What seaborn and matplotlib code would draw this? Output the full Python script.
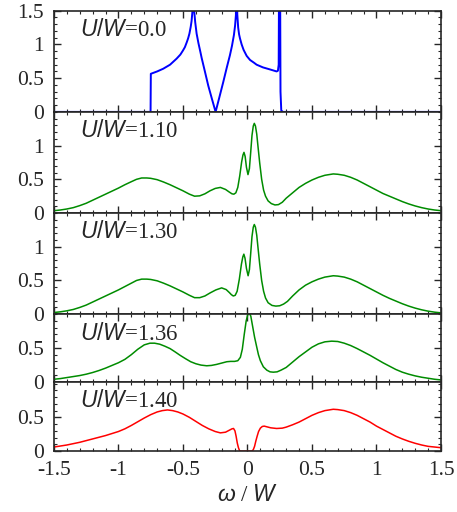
import matplotlib
matplotlib.use("Agg")
import matplotlib.pyplot as plt
from matplotlib.ticker import MultipleLocator
import seaborn as sns
import pandas as pd

# === DATA ===
u_labels = ["0.0", "1.10", "1.30", "1.36", "1.40"]

x_u000 = [-1.5, -0.751, -0.749, -0.70, -0.653, -0.60, -0.549, -0.52, -0.50, -0.485,
          -0.471, -0.46, -0.45, -0.44, -0.433, -0.427, -0.42, -0.413, -0.405, -0.394,
          -0.38, -0.365, -0.355, -0.33, -0.304, -0.275, -0.247, -0.22, -0.188, -0.16,
          -0.136, -0.12, -0.105, -0.096, -0.089, -0.084, -0.079, -0.072, -0.065, -0.058,
          -0.045, -0.03, -0.006, 0.02, 0.05, 0.071, 0.12, 0.174, 0.226, 0.236,
          0.242, 0.246, 0.252, 0.256, 0.262, 0.275, 1.5]
y_u000 = [0.0, 0.0, 0.565, 0.60, 0.64, 0.70, 0.79, 0.85, 0.91, 0.96,
          1.03, 1.09, 1.16, 1.26, 1.35, 1.48, 2.5, 1.50, 1.33, 1.16,
          1.02, 0.89, 0.80, 0.60, 0.39, 0.19, 0.0, 0.20, 0.44, 0.66,
          0.84, 0.98, 1.14, 1.28, 1.45, 2.5, 1.45, 1.25, 1.15, 1.09,
          1.00, 0.92, 0.83, 0.77, 0.73, 0.70, 0.66, 0.63, 0.60, 0.61,
          0.70, 2.5, 2.5, 0.30, 0.02, 0.0, 0.0]

x_u110 = [-1.5, -1.45, -1.4, -1.35, -1.3, -1.25, -1.2, -1.15, -1.1, -1.05, -1.0, -0.95,
          -0.9, -0.86, -0.82, -0.78, -0.75, -0.7, -0.65, -0.6, -0.55, -0.5, -0.45, -0.41,
          -0.37, -0.33, -0.29, -0.25, -0.21, -0.17, -0.14, -0.12, -0.105, -0.09, -0.075,
          -0.06, -0.045, -0.035, -0.027, -0.018, -0.008, 0.004, 0.015, 0.025, 0.035, 0.045,
          0.053, 0.062, 0.072, 0.082, 0.095, 0.11, 0.125, 0.14, 0.16, 0.185, 0.213, 0.24,
          0.27, 0.3, 0.35, 0.4, 0.45, 0.5, 0.55, 0.6, 0.665, 0.7, 0.75, 0.8, 0.85, 0.9,
          0.95, 1.0, 1.05, 1.1, 1.15, 1.2, 1.25, 1.3, 1.35, 1.4, 1.45, 1.5]
y_u110 = [0.035, 0.045, 0.06, 0.08, 0.11, 0.145, 0.19, 0.235, 0.28, 0.325, 0.37, 0.42,
          0.465, 0.50, 0.52, 0.52, 0.515, 0.495, 0.46, 0.42, 0.375, 0.33, 0.28, 0.25,
          0.255, 0.285, 0.33, 0.365, 0.38, 0.35, 0.31, 0.285, 0.28, 0.30, 0.38,
          0.55, 0.76, 0.86, 0.90, 0.84, 0.68, 0.57, 0.66, 0.90, 1.15, 1.29,
          1.33, 1.29, 1.17, 0.98, 0.74, 0.50, 0.34, 0.25, 0.18, 0.14, 0.12, 0.125,
          0.16, 0.22, 0.30, 0.38, 0.44, 0.49, 0.53, 0.56, 0.58, 0.575, 0.56, 0.53, 0.49, 0.44,
          0.39, 0.34, 0.29, 0.25, 0.21, 0.17, 0.135, 0.105, 0.08, 0.06, 0.045, 0.035]

x_u130 = [-1.5, -1.45, -1.4, -1.35, -1.3, -1.25, -1.2, -1.15, -1.1, -1.05, -1.0, -0.95,
          -0.9, -0.86, -0.82, -0.78, -0.75, -0.7, -0.65, -0.6, -0.55, -0.5, -0.45, -0.41,
          -0.37, -0.33, -0.29, -0.245, -0.2, -0.165, -0.14, -0.125, -0.11, -0.095, -0.08,
          -0.063, -0.047, -0.036, -0.028, -0.019, -0.008, 0.005, 0.015, 0.025, 0.035, 0.045,
          0.053, 0.062, 0.072, 0.082, 0.095, 0.11, 0.125, 0.14, 0.16, 0.19, 0.22, 0.25,
          0.28, 0.31, 0.35, 0.4, 0.45, 0.5, 0.55, 0.6, 0.665, 0.7, 0.75, 0.8, 0.85, 0.9,
          0.95, 1.0, 1.05, 1.1, 1.15, 1.2, 1.25, 1.3, 1.35, 1.4, 1.45, 1.5]
y_u130 = [0.025, 0.035, 0.05, 0.07, 0.10, 0.135, 0.18, 0.225, 0.27, 0.315, 0.36, 0.41,
          0.46, 0.50, 0.52, 0.52, 0.515, 0.495, 0.46, 0.42, 0.375, 0.33, 0.28, 0.245,
          0.245, 0.27, 0.315, 0.36, 0.39, 0.365, 0.32, 0.29, 0.27, 0.28, 0.34,
          0.52, 0.74, 0.85, 0.89, 0.83, 0.68, 0.57, 0.66, 0.90, 1.15, 1.29,
          1.33, 1.29, 1.17, 0.98, 0.74, 0.50, 0.34, 0.24, 0.17, 0.13, 0.12, 0.125,
          0.15, 0.19, 0.27, 0.36, 0.43, 0.48, 0.52, 0.55, 0.57, 0.565, 0.55, 0.52, 0.48, 0.43,
          0.38, 0.33, 0.28, 0.235, 0.195, 0.155, 0.12, 0.09, 0.065, 0.045, 0.03, 0.02]

x_u136 = [-1.5, -1.45, -1.4, -1.35, -1.3, -1.25, -1.2, -1.15, -1.1, -1.05, -1.0, -0.95,
          -0.9, -0.85, -0.8, -0.756, -0.72, -0.68, -0.64, -0.6, -0.56, -0.522, -0.48, -0.44,
          -0.4, -0.36, -0.316, -0.28, -0.24, -0.2, -0.16, -0.13, -0.1, -0.075, -0.055,
          -0.04, -0.025, -0.01, 0.002, 0.014, 0.026, 0.04, 0.055, 0.071, 0.085, 0.1, 0.123,
          0.15, 0.175, 0.2, 0.23, 0.26, 0.3, 0.35, 0.4, 0.45, 0.5, 0.55, 0.6, 0.653, 0.7,
          0.75, 0.8, 0.85, 0.9, 0.95, 1.0, 1.05, 1.1, 1.15, 1.2, 1.25, 1.3, 1.35, 1.4,
          1.45, 1.5]
y_u136 = [0.035, 0.045, 0.06, 0.075, 0.09, 0.11, 0.135, 0.165, 0.20, 0.24, 0.28, 0.33,
          0.40, 0.48, 0.545, 0.57, 0.57, 0.555, 0.525, 0.49, 0.44, 0.39, 0.34, 0.295,
          0.265, 0.245, 0.235, 0.24, 0.255, 0.275, 0.295, 0.30, 0.30, 0.31, 0.36,
          0.48, 0.70, 0.90, 0.99, 1.02, 0.97, 0.82, 0.66, 0.52, 0.40, 0.31, 0.22,
          0.17, 0.145, 0.14, 0.145, 0.17, 0.21, 0.29, 0.37, 0.44, 0.51, 0.56, 0.59, 0.60, 0.595,
          0.57, 0.535, 0.49, 0.44, 0.39, 0.335, 0.28, 0.23, 0.18, 0.14, 0.11, 0.085, 0.065, 0.05,
          0.035, 0.025]

x_u140 = [-1.5, -1.45, -1.4, -1.35, -1.3, -1.25, -1.2, -1.15, -1.1, -1.05, -1.0, -0.95,
          -0.9, -0.85, -0.8, -0.75, -0.7, -0.66, -0.62, -0.58, -0.54, -0.5, -0.45, -0.4,
          -0.35, -0.3, -0.25, -0.21, -0.17, -0.14, -0.12, -0.108, -0.097, -0.088, -0.079,
          -0.07, -0.062, -0.055, 0.035, 0.045, 0.055, 0.065, 0.075, 0.086, 0.1, 0.115, 0.13,
          0.15, 0.18, 0.226, 0.27, 0.3, 0.35, 0.4, 0.45, 0.5, 0.55, 0.6, 0.665, 0.7, 0.75,
          0.8, 0.85, 0.9, 0.95, 1.0, 1.05, 1.1, 1.15, 1.2, 1.25, 1.3, 1.35, 1.4, 1.45, 1.5]
y_u140 = [0.06, 0.075, 0.09, 0.11, 0.13, 0.155, 0.18, 0.205, 0.23, 0.26, 0.29, 0.33,
          0.38, 0.435, 0.49, 0.54, 0.58, 0.60, 0.61, 0.60, 0.58, 0.55, 0.50, 0.44,
          0.38, 0.33, 0.29, 0.27, 0.28, 0.31, 0.33, 0.335, 0.30, 0.22, 0.12,
          0.05, 0.01, 0.0, 0.0, 0.02, 0.07, 0.15, 0.22, 0.29, 0.34, 0.365, 0.37,
          0.36, 0.345, 0.335, 0.34, 0.355, 0.39, 0.43, 0.48, 0.53, 0.57, 0.60, 0.62, 0.615, 0.60,
          0.57, 0.53, 0.48, 0.43, 0.37, 0.32, 0.27, 0.22, 0.18, 0.145, 0.115, 0.09, 0.07, 0.06, 0.05]

panels = [
    (x_u000, y_u000, "#0000ff", 1.5, [0, 0.5, 1, 1.5]),
    (x_u110, y_u110, "#008c00", 1.5, [0, 0.5, 1]),
    (x_u130, y_u130, "#008c00", 1.5, [0, 0.5, 1]),
    (x_u136, y_u136, "#008c00", 1.0, [0, 0.5]),
    (x_u140, y_u140, "#ff0000", 1.03, [0, 0.5]),
]

# === STYLE ===
sns.set_style("ticks")
plt.rcParams["font.family"] = ["Liberation Serif", "DejaVu Serif"]
plt.rcParams["mathtext.fontset"] = "custom"
plt.rcParams["mathtext.it"] = "Liberation Sans:italic"
plt.rcParams["mathtext.rm"] = "Liberation Sans"

fig, axes = plt.subplots(5, 1, sharex=True, figsize=(4.57, 5.12), dpi=100,
                         gridspec_kw={"height_ratios": [1.5, 1.5, 1.5, 1.0, 1.03], "hspace": 0})
fig.subplots_adjust(left=0.118, right=0.965, top=0.979, bottom=0.119)

for ax, (xs, ys, col, ytop, yt), lab in zip(axes, panels, u_labels):
    df = pd.DataFrame({"w": xs, "A": ys})
    sns.lineplot(data=df, x="w", y="A", ax=ax, color=col, lw=1.4 if col == "#0000ff" else 1.1,
                 estimator=None, sort=False)
    ax.set_xlim(-1.5, 1.5)
    ax.set_ylim(0, ytop)
    ax.set_yticks(yt)
    ax.set_yticklabels([f"{v:g}" for v in yt])
    ax.yaxis.set_minor_locator(MultipleLocator(0.1))
    ax.xaxis.set_major_locator(MultipleLocator(0.5))
    ax.xaxis.set_minor_locator(MultipleLocator(0.1))
    ax.tick_params(which="both", direction="in", top=True, right=True, labelsize=15.5)
    ax.tick_params(which="major", length=5, width=1.0)
    ax.tick_params(which="minor", length=2.5, width=0.8)
    ax.tick_params(axis="y", pad=7)
    for s in ax.spines.values():
        s.set_linewidth(1.2)
    ax.set_xlabel("")
    ax.set_ylabel("")
    ax.annotate(f"$U/W$={lab}", xy=(0.067, 1.0), xycoords="axes fraction",
                xytext=(0, -6), textcoords="offset points", va="top", ha="left", fontsize=16.5)

axes[-1].set_xticks([-1.5, -1, -0.5, 0, 0.5, 1, 1.5])
axes[-1].set_xticklabels(["-1.5", "-1", "-0.5", "0", "0.5", "1", "1.5"])
axes[-1].tick_params(axis="x", pad=7)
axes[-1].set_xlabel(r"$\omega$ / $W$", fontsize=16.5, labelpad=4)

plt.savefig("out.png", dpi=100)
